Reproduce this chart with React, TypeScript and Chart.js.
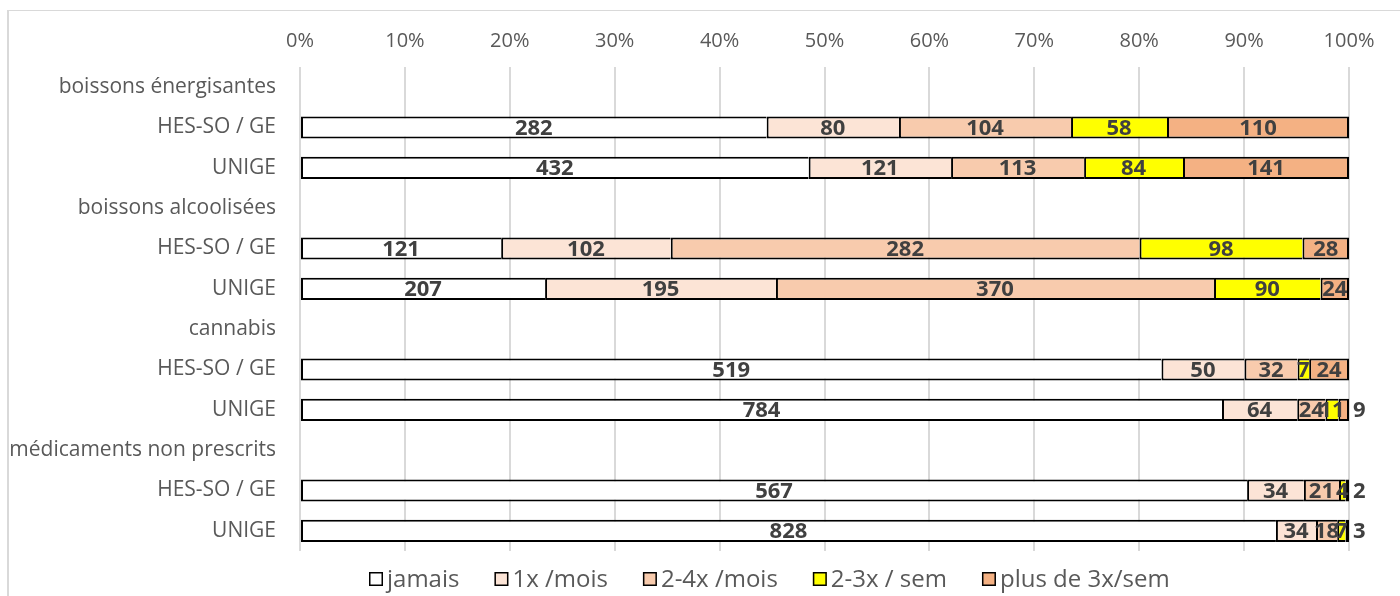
import React, { useEffect, useRef } from "react";
import { Chart, registerables } from "chart.js";

Chart.register(...registerables);

const categories = [
  "boissons énergisantes",
  "HES-SO / GE",
  "UNIGE",
  "boissons alcoolisées",
  "HES-SO / GE",
  "UNIGE",
  "cannabis",
  "HES-SO / GE",
  "UNIGE",
  "médicaments non prescrits",
  "HES-SO / GE",
  "UNIGE",
];

const seriesNames = ["jamais", "1x /mois", "2-4x /mois", "2-3x / sem", "plus de 3x/sem"];

const jamais = [null, 282, 432, null, 121, 207, null, 519, 784, null, 567, 828];
const uneFoisMois = [null, 80, 121, null, 102, 195, null, 50, 64, null, 34, 34];
const deuxQuatreMois = [null, 104, 113, null, 282, 370, null, 32, 24, null, 21, 18];
const deuxTroisSem = [null, 58, 84, null, 98, 90, null, 7, 11, null, 4, 7];
const plusTroisSem = [null, 110, 141, null, 28, 24, null, 24, 9, null, 2, 3];

const xTickValues = [0, 10, 20, 30, 40, 50, 60, 70, 80, 90, 100];

const seriesColors = ["#FFFFFF", "#FCE4D6", "#F8CBAD", "#FFFF00", "#F4B183"];

const FONT = "'Open Sans', sans-serif";

export default function App() {
  const ref = useRef<HTMLCanvasElement | null>(null);

  useEffect(() => {
    const canvas = ref.current;
    if (!canvas) return;
    const series = [jamais, uneFoisMois, deuxQuatreMois, deuxTroisSem, plusTroisSem];
    const totals = categories.map((_, i) =>
      series.reduce((s, arr) => s + (arr[i] == null ? 0 : (arr[i] as number)), 0)
    );
    const last = series.length - 1;

    const datasets = series.map((arr, k) => ({
      label: seriesNames[k],
      data: arr.map((v, i) => (v == null ? null : (v / totals[i]) * 100)),
      counts: arr,
      backgroundColor: seriesColors[k],
      borderColor: "#000000",
      borderWidth: { top: 2, bottom: 2, left: 2, right: k === last ? 2 : 0 },
      borderSkipped: false as any,
      barPercentage: 0.55,
      categoryPercentage: 1,
    }));

    const framePlugin = {
      id: "frame",
      beforeDraw(chart: any) {
        const ctx = chart.ctx;
        ctx.save();
        ctx.fillStyle = "#FFFFFF";
        ctx.fillRect(0, 0, chart.width, chart.height);
        ctx.fillStyle = "#D9D9D9";
        ctx.fillRect(7, 10, 2, chart.height - 10);
        ctx.fillRect(7, 10, chart.width - 7, 1);
        ctx.restore();
      },
    };

    const labelPlugin = {
      id: "segLabels",
      afterDatasetsDraw(chart: any) {
        const ctx = chart.ctx;
        ctx.save();
        ctx.font = `bold 22px ${FONT}`;
        ctx.fillStyle = "#404040";
        ctx.textBaseline = "middle";
        const n = chart.data.datasets.length;
        chart.data.datasets.forEach((ds: any, k: number) => {
          const meta = chart.getDatasetMeta(k);
          meta.data.forEach((el: any, i: number) => {
            const c = ds.counts[i];
            if (c == null) return;
            const txt = String(c);
            const w = ctx.measureText(txt).width;
            const left = Math.min(el.x, el.base);
            const right = Math.max(el.x, el.base);
            if (k === n - 1 && right - left < w) {
              ctx.textAlign = "left";
              ctx.fillText(txt, right + 4, el.y + 1);
            } else {
              ctx.textAlign = "center";
              ctx.fillText(txt, (left + right) / 2, el.y + 1);
            }
          });
        });
        ctx.restore();
      },
    };

    const legendPlugin = {
      id: "bottomLegend",
      afterDraw(chart: any) {
        const ctx = chart.ctx;
        ctx.save();
        ctx.font = `24px ${FONT}`;
        ctx.textBaseline = "middle";
        ctx.textAlign = "left";
        const box = 14;
        const gap = 4;
        const itemGap = 35;
        const widths = seriesNames.map((t) => ctx.measureText(t).width);
        const total =
          widths.reduce((a, b) => a + b, 0) + seriesNames.length * (box + gap) + itemGap * (seriesNames.length - 1);
        let x = Math.round(769 - total / 2);
        const yc = 579;
        seriesNames.forEach((t, k) => {
          ctx.fillStyle = seriesColors[k];
          ctx.fillRect(x, yc - box / 2, box, box);
          ctx.strokeStyle = "#000000";
          ctx.lineWidth = 1.5;
          ctx.strokeRect(x + 0.75, yc - box / 2 + 0.75, box - 1.5, box - 1.5);
          ctx.fillStyle = "#595959";
          ctx.fillText(t, x + box + gap, yc + 1);
          x += box + gap + widths[k] + itemGap;
        });
        ctx.restore();
      },
    };

    const chart = new Chart(canvas, {
      type: "bar",
      data: { labels: categories, datasets: datasets as any },
      options: {
        indexAxis: "y",
        animation: false,
        responsive: false,
        maintainAspectRatio: false,
        devicePixelRatio: 1,
        layout: { padding: { top: 0, right: 51, bottom: 45, left: 0 } },
        plugins: {
          legend: { display: false },
          tooltip: { enabled: false },
        },
        scales: {
          x: {
            position: "top",
            stacked: true,
            min: 0,
            max: 100,
            afterBuildTicks(scale: any) {
              scale.ticks = xTickValues.map((v) => ({ value: v }));
            },
            afterFit(scale: any) {
              scale.height = 67;
            },
            ticks: {
              callback: (v: any) => `${v}%`,
              color: "#595959",
              font: { family: FONT, size: 20 },
              padding: 14,
              maxRotation: 0,
            },
            grid: { color: "#D9D9D9", lineWidth: 2, drawTicks: false },
            border: { display: false },
          },
          y: {
            stacked: true,
            afterFit(scale: any) {
              scale.width = 300;
            },
            ticks: {
              color: "#595959",
              font: { family: FONT, size: 21 },
              padding: 24,
              autoSkip: false,
            },
            grid: { display: false, drawTicks: false },
            border: { display: false },
          },
        },
      },
      plugins: [framePlugin, labelPlugin, legendPlugin],
    });
    return () => chart.destroy();
  }, []);

  return (
    <div style={{ position: "fixed", left: 0, top: 0, width: 1400, height: 596, background: "#fff" }}>
      <canvas ref={ref} width={1400} height={596} style={{ width: 1400, height: 596, display: "block" }} />
    </div>
  );
}
